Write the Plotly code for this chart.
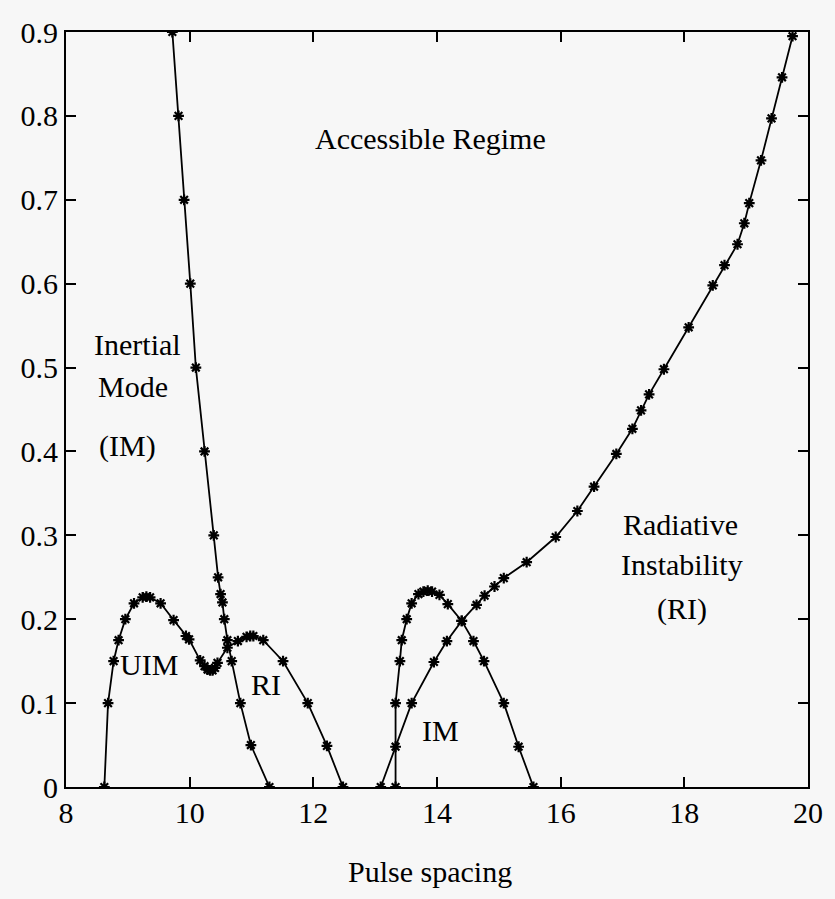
import plotly.graph_objects as go

# Steep boundary descending from the top (Inertial Mode boundary)
im_left_x = [9.72, 9.82, 9.91, 10.01, 10.10, 10.24, 10.39, 10.46, 10.50, 10.53, 10.56, 10.61, 10.68, 10.82, 10.99, 11.29]
im_left_y = [0.9, 0.8, 0.7, 0.6, 0.5, 0.4, 0.3, 0.25, 0.23, 0.22, 0.2, 0.175, 0.15, 0.1, 0.05, 0.0]

# UIM / RI double-humped curve
uim_x = [8.62, 8.68, 8.77, 8.85, 8.96, 9.10, 9.24, 9.30, 9.36, 9.53, 9.74, 9.94, 9.99, 10.17, 10.24,
         10.29, 10.33, 10.37, 10.41, 10.45, 10.61, 10.78, 10.92, 10.98, 11.03, 11.19, 11.51, 11.91, 12.22, 12.48]
uim_y = [0.0, 0.10, 0.15, 0.175, 0.20, 0.219, 0.226, 0.227, 0.226, 0.219, 0.199, 0.180, 0.176, 0.151, 0.144,
         0.140, 0.139, 0.139, 0.142, 0.148, 0.166, 0.174, 0.179, 0.180, 0.180, 0.175, 0.150, 0.100, 0.049, 0.0]

# Right IM bump
bump_x = [13.33, 13.33, 13.40, 13.43, 13.51, 13.59, 13.70, 13.78, 13.85, 13.92, 14.04, 14.175, 14.40, 14.59, 14.76, 15.08, 15.32, 15.56]
bump_y = [0.0, 0.10, 0.15, 0.175, 0.2, 0.219, 0.23, 0.233, 0.234, 0.233, 0.229, 0.218, 0.198, 0.174, 0.150, 0.100, 0.048, 0.0]

# Long radiative-instability boundary
ri_x = [13.09, 13.33, 13.59, 13.95, 14.16, 14.40, 14.64, 14.77, 14.93, 15.08, 15.45, 15.92, 16.27, 16.54, 16.90,
        17.16, 17.30, 17.43, 17.67, 18.07, 18.46, 18.65, 18.86, 18.97, 19.05, 19.24, 19.41, 19.58, 19.75]
ri_y = [0.0, 0.048, 0.1, 0.149, 0.174, 0.198, 0.217, 0.228, 0.239, 0.249, 0.268, 0.298, 0.329, 0.358, 0.397,
        0.427, 0.449, 0.468, 0.498, 0.548, 0.598, 0.622, 0.647, 0.672, 0.696, 0.747, 0.797, 0.846, 0.895]

x_ticks = [8, 10, 12, 14, 16, 18, 20]
y_ticks = [0, 0.1, 0.2, 0.3, 0.4, 0.5, 0.6, 0.7, 0.8, 0.9]
y_tick_text = ["0", "0.1", "0.2", "0.3", "0.4", "0.5", "0.6", "0.7", "0.8", "0.9"]

region_labels = [
    ("Accessible Regime", 13.9, 0.773, "center"),
    ("Inertial", 8.42, 0.527, "left"),
    ("Mode", 8.48, 0.477, "left"),
    ("(IM)", 8.50, 0.407, "left"),
    ("UIM", 9.35, 0.146, "center"),
    ("RI", 11.23, 0.122, "center"),
    ("IM", 14.06, 0.067, "center"),
    ("Radiative", 17.93, 0.313, "center"),
    ("Instability", 17.96, 0.265, "center"),
    ("(RI)", 17.97, 0.212, "center"),
]

FONT = "Liberation Serif, Times New Roman, serif"

fig = go.Figure()
marker = dict(symbol="asterisk", size=9, color="black", line=dict(color="black", width=2.2))
for xs, ys in [(im_left_x, im_left_y), (uim_x, uim_y), (bump_x, bump_y), (ri_x, ri_y)]:
    fig.add_trace(go.Scatter(x=xs, y=ys, mode="lines+markers",
                             line=dict(color="black", width=1.8),
                             marker=marker, showlegend=False, hoverinfo="skip"))

for text, x, y, anchor in region_labels:
    fig.add_annotation(x=x, y=y, xref="x", yref="y", text=text, showarrow=False,
                       xanchor=anchor, yanchor="middle",
                       font=dict(family=FONT, size=30, color="black"))

fig.add_annotation(x=0.49, y=-0.112, xref="paper", yref="paper", text="Pulse spacing",
                   showarrow=False, xanchor="center", yanchor="middle",
                   font=dict(family=FONT, size=30, color="black"))

axis_common = dict(showline=True, linecolor="black", linewidth=1.8, mirror="ticks",
                   ticks="inside", ticklen=10, tickwidth=1.5, tickcolor="black",
                   showgrid=False, zeroline=False, ticklabeloverflow="allow",
                   tickfont=dict(family=FONT, size=30, color="black"))

fig.update_xaxes(range=[8, 20], tickvals=x_ticks, ticktext=[str(v) for v in x_ticks],
                 ticklabelstandoff=-2, **axis_common)
fig.update_yaxes(range=[0, 0.9], tickvals=y_ticks, ticktext=y_tick_text,
                 ticklabelstandoff=0, **axis_common)

fig.update_layout(width=835, height=899,
                  margin=dict(l=66, r=17, t=32, b=112),
                  paper_bgcolor="#f7f7f7", plot_bgcolor="#f7f7f7",
                  font=dict(family=FONT, color="black"))

fig.write_html("out.html")
